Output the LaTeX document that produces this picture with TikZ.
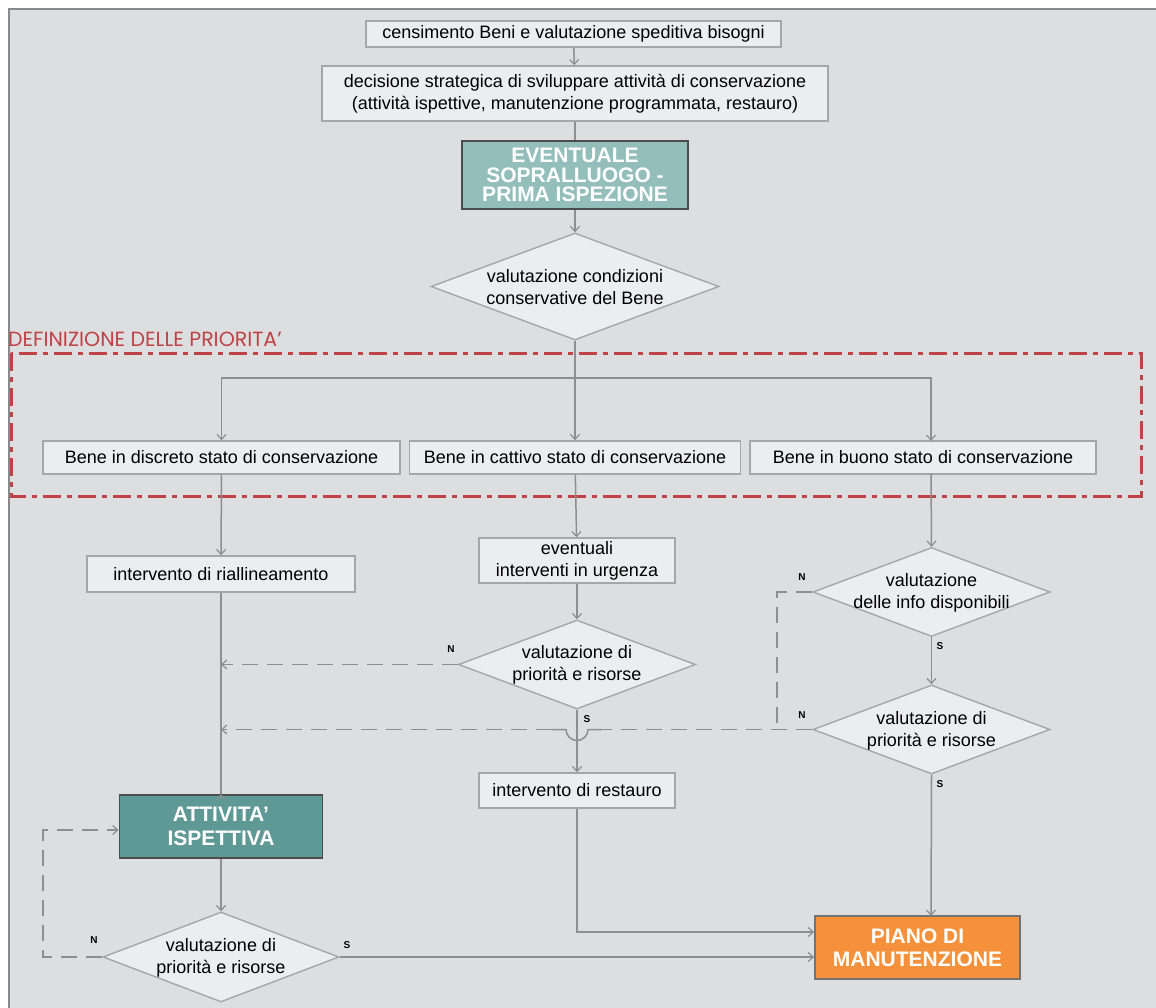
\documentclass[tikz,border=0pt]{standalone}
\usepackage{fontspec}
\setmainfont{Liberation Sans}
\newfontfamily\deffont{Poppins}
\usetikzlibrary{shapes.geometric,arrows.meta}
\definecolor{bg}{HTML}{DDDEE0}
\definecolor{boxfill}{HTML}{ECEDEE}
\definecolor{boxdraw}{HTML}{A6A6A8}
\definecolor{linec}{HTML}{8E8E90}
\definecolor{tealL}{HTML}{93BEBA}
\definecolor{tealD}{HTML}{5F9996}
\definecolor{orangeP}{HTML}{F5913A}
\definecolor{redD}{HTML}{BF4346}
\definecolor{frame}{HTML}{8A8A8C}
\tikzset{
  x=1pt, y=-1pt,
  every node/.style={font=\fontsize{18}{22}\selectfont, align=center, inner sep=0pt},
  pbox/.style={draw=boxdraw, fill=boxfill, line width=1.4pt, rectangle},
  hbox/.style={draw=black!70, line width=1.8pt, rectangle, text=white,
     font=\fontsize{21}{19.5}\selectfont\bfseries},
  dbox/.style={shape=diamond, draw=boxdraw, fill=boxfill, line width=1.4pt},
  tip/.style={-{Straight Barb[length=5pt,width=9pt,line width=1.2pt]}},
  conn/.style={draw=linec, line width=1.5pt, tip},
  plain/.style={draw=linec, line width=1.5pt},
  dconn/.style={draw=linec, line width=1.5pt, dash pattern=on 16pt off 9pt},
  ns/.style={font=\fontsize{10}{10}\selectfont\bfseries},
}
\begin{document}
\begin{tikzpicture}
\useasboundingbox (0,0) rectangle (1156,1008);
\fill[white] (0,0) rectangle (1156,1008);
\fill[bg] (9,9) rectangle (1156,1008);
\draw[frame, line width=1.6pt] (9,1008) -- (9,9) -- (1156,9);

% red priority zone
\node[anchor=west, text=redD, font=\deffont\fontsize{20.5}{21}\selectfont] (deftxt) at (8,339) {DEFINIZIONE DELLE PRIORITA’};
\draw[redD, line width=3pt, dash pattern=on 18pt off 6pt on 5pt off 6pt] (11,353) rectangle (1141,496);

% top chain
\node[pbox, minimum width=415, minimum height=26] (c1) at (573.5,34) {censimento Beni e valutazione speditiva bisogni};
\node[pbox, minimum width=506, minimum height=55] (c2) at (575,93.5) {decisione strategica di sviluppare attività di conservazione\\(attività ispettive, manutenzione programmata, restauro)};
\node[hbox, fill=tealL, minimum width=226, minimum height=68] (c3) at (575,175) {EVENTUALE\\SOPRALLUOGO -\\PRIMA ISPEZIONE};
\node[dbox, minimum width=288, minimum height=107] (d0) at (575,286.5) {};
\node at (575,287) {valutazione condizioni\\conservative del Bene};

% three states
\node[pbox, minimum width=357, minimum height=33] (s1) at (221.5,457.5) {Bene in discreto stato di conservazione};
\node[pbox, minimum width=331, minimum height=33] (s2) at (575,457.5) {Bene in cattivo stato di conservazione};
\node[pbox, minimum width=346, minimum height=33] (s3) at (923,457.5) {Bene in buono stato di conservazione};

% left column
\node[pbox, minimum width=268, minimum height=36] (r1) at (221,574) {intervento di riallineamento};
\node[hbox, fill=tealD, font=\fontsize{21}{24}\selectfont\bfseries, minimum width=203, minimum height=63] (att) at (221,826.5) {ATTIVITA’\\ISPETTIVA};
\node[dbox, minimum width=236, minimum height=90] (d4) at (221,957) {};
\node at (221,958) {valutazione di\\priorità e risorse};

% middle column
\node[pbox, minimum width=196, minimum height=45] (u1) at (577,560.5) {eventuali\\interventi in urgenza};
\node[dbox, minimum width=237, minimum height=89] (d1) at (577,664.5) {};
\node at (577,665) {valutazione di\\priorità e risorse};
\node[pbox, minimum width=196, minimum height=35] (rest) at (577,790.5) {intervento di restauro};

% right column
\node[dbox, minimum width=237, minimum height=89] (d2) at (931.5,592) {};
\node at (931.5,593) {valutazione\\delle info disponibili};
\node[dbox, minimum width=237, minimum height=89] (d3) at (931.5,729.5) {};
\node at (931.5,731) {valutazione di\\priorità e risorse};
\node[hbox, fill=orangeP, draw=black!55, font=\fontsize{21}{23}\selectfont\bfseries, minimum width=205, minimum height=63] (piano) at (917.5,947.5) {PIANO DI\\MANUTENZIONE};

% N / S labels
\node[ns] (n1) at (451,649) {N};
\node[ns] (sl1) at (587,719) {S};
\node[ns] (n2) at (802,577) {N};
\node[ns] (sl2) at (940,646) {S};
\node[ns] (n3) at (802,715) {N};
\node[ns] (sl3) at (940,784) {S};
\node[ns] (n4) at (94,940) {N};
\node[ns] (sl4) at (347,945) {S};

% coordinates
\coordinate (split) at (575,378);
\coordinate (j1) at (d1.west -| r1.south);
\coordinate (j2) at (d3.west -| r1.south);
\coordinate (bendN) at (d2.west -| 777,0);
\coordinate (bendS) at (d3.west -| 777,0);
\coordinate (hopA) at (d3.west -| 602,0);
\coordinate (hopR) at (d3.west -| 588,0);
\coordinate (hopB) at (d3.west -| 552,0);
\coordinate (loopL) at (43,830);
\coordinate (attin) at (att.west |- loopL);
\coordinate (pianoin) at (piano.west |- 0,932);

% solid connectors
\draw[conn] (c1) -- (c2);
\draw[plain] (c2) -- (c3);
\draw[conn] (c3) -- (d0);
\draw[conn] (d0.south) -- (s2.north);
\draw[conn] (split) -| (s1.north);
\draw[conn] (split) -| (931,441);
\draw[conn] (s1) -- (r1);
\draw[plain] (r1) -- (att);
\draw[conn] (221,795) -- (att.north);
\draw[conn] (s2) -- (u1);
\draw[conn] (u1) -- (d1);
\draw[conn] (d1) -- (rest);
\draw[conn] (931,474) -- (d2.north);
\draw[conn] (d2) -- (d3);
\draw[conn] (d3.south) -- (931,916);
\draw[conn] (att) -- (d4);
\draw[conn] (d4.east) -- (d4.east -| piano.west);
\draw[conn] (rest) |- (pianoin);

% dashed connectors
\draw[dconn, tip] (d1.west) -- (j1);
\draw[dconn] (d2.west) -- (bendN) -- (bendS);
\draw[dconn] (d3.west) -- (hopA);
\draw[plain] (hopA) -- (hopR) arc[start angle=0, end angle=180, radius=11] -- (hopB);
\draw[dconn, tip] (hopB) -- (j2);
\draw[dconn, tip] (d4.west) -- (d4.west -| loopL) -- (loopL) -- (attin);
\end{tikzpicture}
\end{document}
